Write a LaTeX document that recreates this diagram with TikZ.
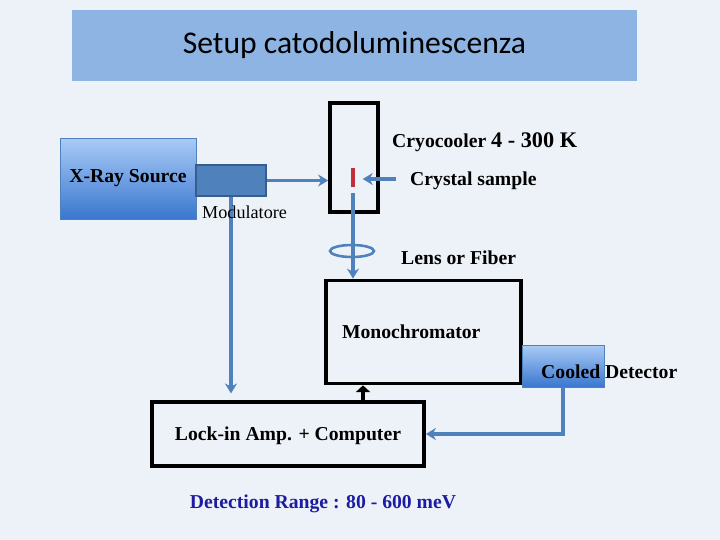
\documentclass[tikz,border=0pt]{standalone}
\usepackage{fontspec}
\setmainfont{Liberation Serif}
\newfontfamily\titlefont{Carlito}
\usepackage{xcolor}
\usepackage{tikz}
\usetikzlibrary{arrows.meta,positioning,calc,shapes.geometric}

\definecolor{bgblue}{HTML}{EDF2F9}
\definecolor{titleblue}{HTML}{8EB4E3}
\definecolor{lineblue}{HTML}{4F81BD}
\definecolor{darkedge}{HTML}{385D8A}
\definecolor{srctop}{HTML}{A9CBF6}
\definecolor{srcbot}{HTML}{3A77CF}
\definecolor{rangeblue}{HTML}{1C1CA0}
\definecolor{samplered}{HTML}{C0303A}

\begin{document}
\begin{tikzpicture}[x=0.3mm,y=-0.3mm,
 font=\fontsize{16.8}{19}\selectfont\bfseries,>={Stealth[length=3mm,width=3.6mm]},
 frame/.style={draw=black,line width=3.2pt,inner sep=0pt},
 grad/.style={draw=lineblue,line width=0.8pt,top color=srctop,bottom color=srcbot,inner sep=0pt},
 beam/.style={draw=lineblue,line width=3.2pt,->},
 lbl/.style={inner sep=0pt,anchor=base west}]
\fill[bgblue] (0,0) rectangle (720,540);
\node[fill=titleblue,minimum width=169.5mm,minimum height=21.3mm,inner sep=0pt,font=\titlefont\fontsize{27}{30}\selectfont] (title) at (354.5,45.5) {Setup catodoluminescenza};
% cryostat with sample
\node[frame,minimum width=14.4mm,minimum height=32.7mm] (cryo) at (354,157.5) {};
\node[fill=samplered,minimum width=1.3mm,minimum height=5.7mm,inner sep=0pt] (sample) at (353,177.5) {};
\node[lbl] (cryolbl) at (392,147) {Cryocooler {\fontsize{19}{21}\selectfont 4 - 300 K}};
\node[lbl] (xtal) at (410,185) {Crystal sample};
\coordinate (xtaltail) at (396,179);
% source and chopper
\node[grad,minimum width=40.8mm,minimum height=24.3mm] (src) at (128,178.5) {X-Ray Source};
\node[draw=darkedge,line width=2.2pt,fill=lineblue,minimum width=21mm,minimum height=9.3mm,inner sep=0pt] (mod) at (231,180.5) {};
% optics
\node[ellipse,draw=lineblue,line width=2.2pt,minimum width=13.2mm,minimum height=3.6mm,inner sep=0pt] (lens) at (352,251) {};
\node[lbl] (lenslbl) at (401,264) {Lens or Fiber};
\node[frame,minimum width=58.5mm,minimum height=30.9mm,text width=48.9mm,inner xsep=4.8mm,align=left] (mono) at (423.5,332) {Monochromator};
\node[grad,minimum width=24.6mm,minimum height=12.6mm] (det) at (563,366) {};
\node[lbl] (detlbl) at (541,378) {Cooled Detector};
% read-out
\node[frame,minimum width=81.6mm,minimum height=19.2mm,text depth=-1.5mm] (lock) at (288,434) {Lock-in Amp. + Computer};
\node[inner sep=0pt,anchor=base,text=rangeblue] (range) at (323,508) {Detection Range : 80 - 600 meV};

\draw[beam] (mod.east) -- (mod.east -| cryo.west);
\draw[beam,shorten >=2.2mm] (xtaltail) -- (xtaltail -| sample.east);
\draw[beam,shorten >=2mm] (mod.south) -- (mod.south |- lock.north);
\draw[beam,shorten <=1.8mm] (sample.south) -- (sample.south |- mono.north);
\draw[beam] (det.south) |- (lock.east);
\draw[line width=3pt,-{Triangle[length=2mm,width=4.2mm]}] ([xshift=22.5mm]lock.north) -- ([xshift=22.5mm]lock.north |- mono.south);
\node[lbl,font=\fontsize{15.5}{18}\selectfont] (modlbl) at (202,218) {Modulatore};
\end{tikzpicture}
\end{document}
